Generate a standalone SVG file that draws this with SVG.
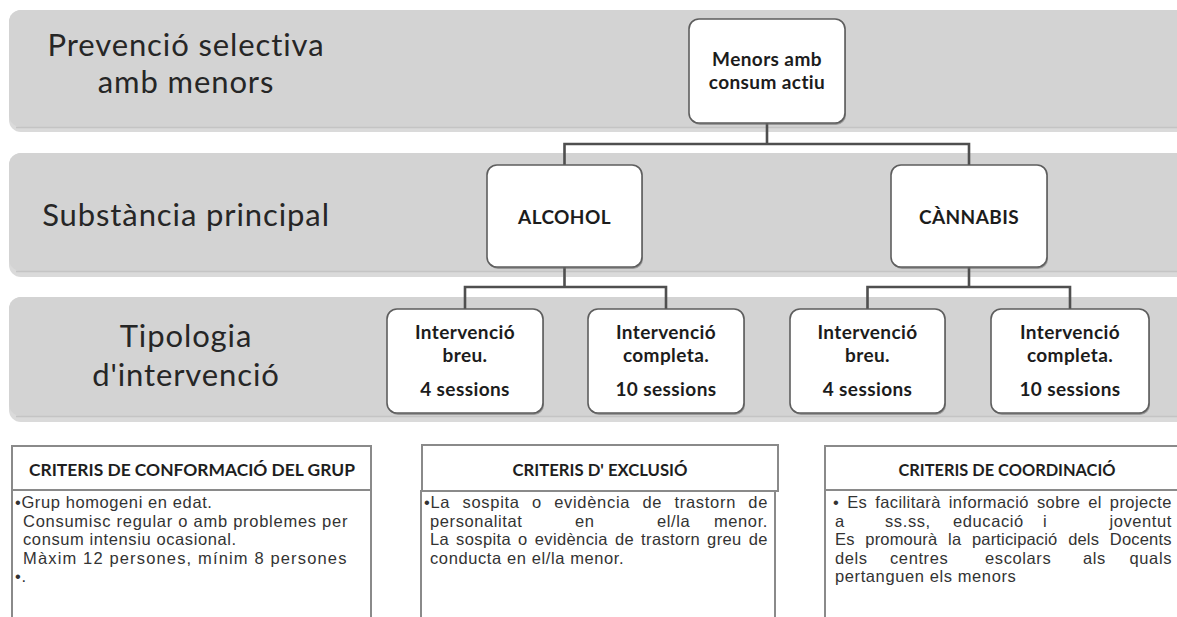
<svg xmlns="http://www.w3.org/2000/svg" width="1177" height="617" viewBox="0 0 1177 617">
<style>
.bandsh{fill:#dadada}
.band{fill:#d3d3d3}
.bandline{stroke:#c4c4c4;stroke-width:1.5}
.bl{font-family:Lato,"Noto Sans",sans-serif;font-size:31px;letter-spacing:0.9px;fill:#262626;text-anchor:middle}
.box{fill:#ffffff;stroke:#5e5e5e;stroke-width:1.6}
.sh{fill:#6a6a6a;opacity:0.55}
.nt{font-family:Lato,"Liberation Sans",sans-serif;font-size:19px;letter-spacing:0.4px;font-weight:bold;fill:#1c1c1c;text-anchor:middle}
.conn{fill:none;stroke:#4f4f4f;stroke-width:2.6}
.cb{fill:#ffffff;stroke:#8a8a8a;stroke-width:2}
.ht{font-family:Lato,"Liberation Sans",sans-serif;font-size:17px;font-weight:bold;fill:#1e1e1e;text-anchor:middle}
.tx{font-family:"Liberation Sans",Arial,sans-serif;font-size:16.5px;letter-spacing:0.6px;fill:#333333}
.end{text-anchor:end}
</style>

<g id="bands">
  <rect class="bandsh" x="9" y="10" width="1200" height="122" rx="12"/>
  <rect class="band" x="9" y="10" width="1200" height="117" rx="12"/>
  <line class="bandline" x1="16" y1="127.5" x2="1177" y2="127.5"/>
  <rect class="bandsh" x="9" y="153" width="1200" height="124" rx="12"/>
  <rect class="band" x="9" y="153" width="1200" height="118" rx="12"/>
  <line class="bandline" x1="16" y1="271.5" x2="1177" y2="271.5"/>
  <rect class="bandsh" x="9" y="297" width="1200" height="125" rx="12"/>
  <rect class="band" x="9" y="297" width="1200" height="119" rx="12"/>
  <line class="bandline" x1="16" y1="416.5" x2="1177" y2="416.5"/>
  <text class="bl" x="186" y="55.5">Prevenció selectiva</text>
  <text class="bl" x="186" y="93">amb menors</text>
  <text class="bl" x="186" y="226">Substància principal</text>
  <text class="bl" x="186" y="347">Tipologia</text>
  <text class="bl" x="186" y="386">d'intervenció</text>
</g>

<g id="connectors">
  <path class="conn" d="M767,123 V144 M564.5,165 V144 H969 V165"/>
  <path class="conn" d="M564.5,267 V287 M465,309 V287 H666 V309"/>
  <path class="conn" d="M969,267 V287 M867.5,309 V287 H1070 V309"/>
</g>

<g id="root">
  <rect class="sh" x="690" y="21" width="156" height="104" rx="10"/>
  <rect class="box" x="689" y="19" width="156" height="104" rx="10"/>
  <text class="nt" x="767" y="66">Menors amb</text>
  <text class="nt" x="767" y="89">consum actiu</text>
</g>

<g id="alcohol">
  <rect class="sh" x="488" y="167" width="155" height="102" rx="10"/>
  <rect class="box" x="487" y="165" width="155" height="102" rx="10"/>
  <text class="nt" x="564.5" y="224">ALCOHOL</text>
</g>

<g id="cannabis">
  <rect class="sh" x="892" y="167" width="156" height="102" rx="10"/>
  <rect class="box" x="891" y="165" width="156" height="102" rx="10"/>
  <text class="nt" x="969" y="224">CÀNNABIS</text>
</g>

<g id="alcohol-breu">
  <rect class="sh" x="388" y="311" width="156" height="104" rx="10"/>
  <rect class="box" x="387" y="309" width="156" height="104" rx="10"/>
  <text class="nt" x="465" y="339">Intervenció</text>
  <text class="nt" x="465" y="362">breu.</text>
  <text class="nt" x="465" y="396">4 sessions</text>
</g>

<g id="alcohol-completa">
  <rect class="sh" x="589" y="311" width="156" height="104" rx="10"/>
  <rect class="box" x="588" y="309" width="156" height="104" rx="10"/>
  <text class="nt" x="666" y="339">Intervenció</text>
  <text class="nt" x="666" y="362">completa.</text>
  <text class="nt" x="666" y="396">10 sessions</text>
</g>

<g id="cannabis-breu">
  <rect class="sh" x="791" y="311" width="155" height="104" rx="10"/>
  <rect class="box" x="790" y="309" width="155" height="104" rx="10"/>
  <text class="nt" x="867.5" y="339">Intervenció</text>
  <text class="nt" x="867.5" y="362">breu.</text>
  <text class="nt" x="867.5" y="396">4 sessions</text>
</g>

<g id="cannabis-completa">
  <rect class="sh" x="992" y="311" width="158" height="104" rx="10"/>
  <rect class="box" x="991" y="309" width="158" height="104" rx="10"/>
  <text class="nt" x="1070" y="339">Intervenció</text>
  <text class="nt" x="1070" y="362">completa.</text>
  <text class="nt" x="1070" y="396">10 sessions</text>
</g>

<g id="criteris-conformacio">
  <rect class="cb" x="12" y="490" width="359" height="150"/>
  <rect class="cb" x="12" y="446" width="359" height="44"/>
  <text class="ht" x="192" y="476" textLength="326" lengthAdjust="spacingAndGlyphs">CRITERIS DE CONFORMACIÓ DEL GRUP</text>
  <text class="tx" x="15" y="508">•Grup homogeni en edat.</text>
  <text class="tx" x="23" y="526.5" textLength="325" lengthAdjust="spacing">Consumisc regular o amb problemes per</text>
  <text class="tx" x="23" y="545">consum intensiu ocasional.</text>
  <text class="tx" x="23" y="563.5" textLength="324" lengthAdjust="spacing">Màxim 12 persones, mínim 8 persones</text>
  <text class="tx" x="15" y="582">•.</text>
</g>

<g id="criteris-exclusio">
  <rect class="cb" x="421" y="491" width="354" height="150"/>
  <rect class="cb" x="422" y="445" width="356" height="46"/>
  <text class="ht" x="600" y="476" textLength="175" lengthAdjust="spacingAndGlyphs">CRITERIS D' EXCLUSIÓ</text>
  <text class="tx" x="424" y="508" word-spacing="7" textLength="344" lengthAdjust="spacing">•La sospita o evidència de trastorn de</text>
  <text class="tx" x="430" y="526.5">personalitat</text>
  <text class="tx" x="575" y="526.5">en</text>
  <text class="tx" x="657" y="526.5">el/la</text>
  <text class="tx end" x="768" y="526.5">menor.</text>
  <text class="tx" x="430" y="545" word-spacing="2" textLength="338" lengthAdjust="spacing">La sospita o evidència de trastorn greu de</text>
  <text class="tx" x="430" y="563.5">conducta en el/la menor.</text>
</g>

<g id="criteris-coordinacio">
  <rect class="cb" x="825" y="490" width="370" height="150"/>
  <rect class="cb" x="825" y="446" width="370" height="44"/>
  <text class="ht" x="1007" y="476" textLength="217" lengthAdjust="spacingAndGlyphs">CRITERIS DE COORDINACIÓ</text>
  <text class="tx" x="833" y="508" word-spacing="3" textLength="339" lengthAdjust="spacing">• Es facilitarà informació sobre el projecte</text>
  <text class="tx" x="835" y="526.5">a</text>
  <text class="tx" x="885" y="526.5">ss.ss,</text>
  <text class="tx" x="953" y="526.5">educació</text>
  <text class="tx" x="1043" y="526.5">i</text>
  <text class="tx end" x="1172" y="526.5">joventut</text>
  <text class="tx" x="835" y="545" word-spacing="6" textLength="337" lengthAdjust="spacing">Es promourà la participació dels Docents</text>
  <text class="tx" x="835" y="563.5">dels</text>
  <text class="tx" x="890" y="563.5">centres</text>
  <text class="tx" x="985" y="563.5">escolars</text>
  <text class="tx" x="1083" y="563.5">als</text>
  <text class="tx end" x="1172" y="563.5">quals</text>
  <text class="tx" x="835" y="582">pertanguen els menors</text>
</g>
</svg>
